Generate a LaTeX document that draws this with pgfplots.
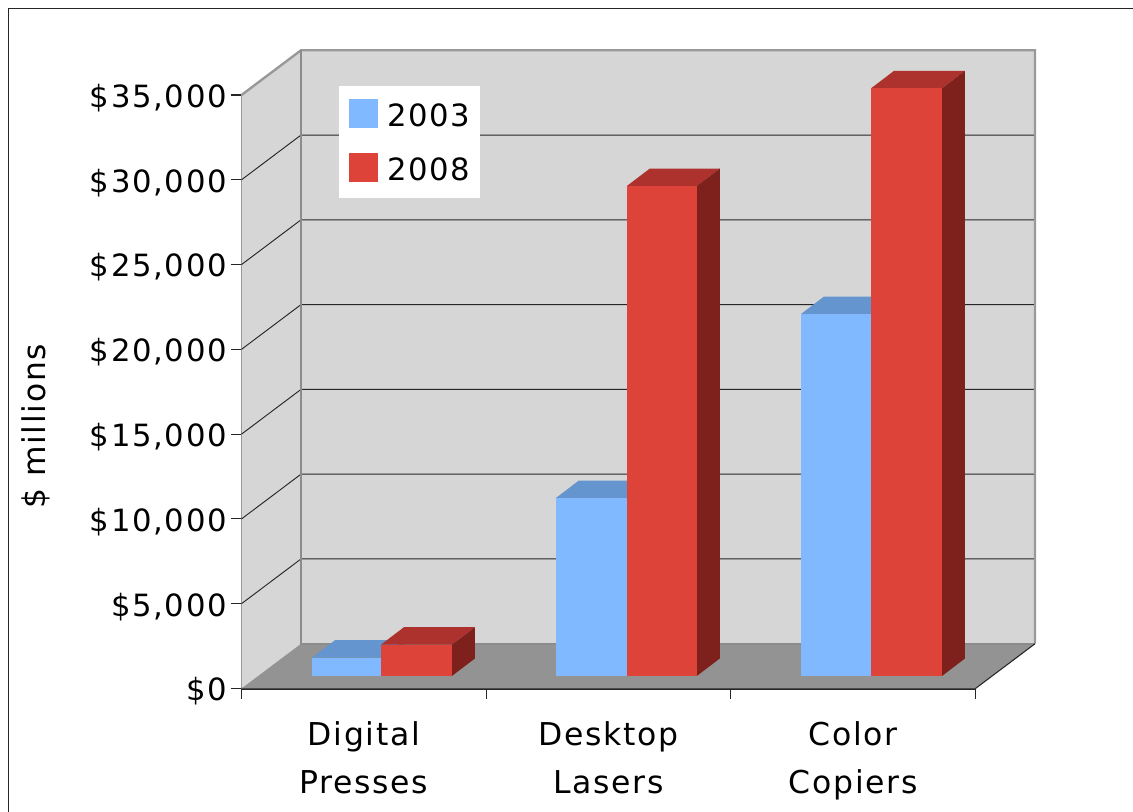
\documentclass[border=0pt]{standalone}
\usepackage{fontspec}
\setmainfont{DejaVu Sans}[LetterSpace=5.5]
\usepackage{pgfplots}
\pgfplotsset{compat=1.18}
\definecolor{wall}{HTML}{D6D6D6}
\definecolor{floorc}{HTML}{939393}
\definecolor{edge}{HTML}{999999}
\definecolor{bluef}{HTML}{80B9FF}
\definecolor{bluet}{HTML}{6595CF}
\definecolor{blues}{HTML}{4A6F9C}
\definecolor{redf}{HTML}{DE433A}
\definecolor{redt}{HTML}{AD322E}
\definecolor{reds}{HTML}{7E211C}
% back-wall offset in data units
\def\bx{0.2432}
\def\by{2639}
% bar depth in data units
\def\dx{0.094}
\def\dy{1032}
% one 3D bar: x1, x2, value, front, top, side
\newcommand{\threebar}[6]{%
  \edef\xb{\fpeval{#1+\dx}}%
  \edef\xc{\fpeval{#2+\dx}}%
  \edef\vb{\fpeval{#3+\dy}}%
  \addplot[fill=#5,draw=none,forget plot,yshift=9.375pt] coordinates {(#1,#3)(\xb,\vb)(\xc,\vb)(#2,#3)} -- cycle;
  \addplot[fill=#6,draw=none,forget plot,yshift=9.375pt] coordinates {(#2,0)(\xc,\dy)(\xc,\vb)(#2,#3)} -- cycle;
  \addplot[fill=#4,draw=none,forget plot,yshift=9.375pt] coordinates {(#1,0)(#1,#3)(#2,#3)(#2,0)} -- cycle;
}
\newcommand{\gridat}[1]{%
  \edef\vb{\fpeval{#1+\by}}%
  \addplot[black!85,line width=0.7pt,forget plot] coordinates {(0,#1)(\bx,\vb)(3.2432,\vb)};
}
\begin{document}
\begin{tikzpicture}
\useasboundingbox (-181.125pt,-92.625pt) rectangle (668.625pt,516.375pt);
\draw[black!85,line width=0.8pt] (-174.4pt,-100pt) -- (-174.4pt,510pt) -- (680pt,510pt);
\begin{axis}[
  at={(0,0)},anchor=origin,
  scale only axis,
  width=550.5pt,height=445.1pt,
  xmin=0,xmax=3,ymin=0,ymax=35000,
  clip=false,
  scaled y ticks=false,
  axis x line*=bottom,axis y line*=left,
  axis line style={-,black!85},
  x axis line style={line width=1.6pt},
  y axis line style={line width=0.8pt},
  tick align=outside,
  major tick length=7.8pt,
  tick style={black!85,line width=0.8pt},
  xtick={0,1,2,3},xticklabels={},
  extra x ticks={0.5,1.5,2.5},
  extra x tick labels={{Digital\\Presses},{Desktop\\Lasers},{Color\\Copiers}},
  extra x tick style={major tick length=0pt,
    tick label style={align=center,yshift=-21pt,font=\fontsize{23.6}{36}\selectfont}},
  ytick={0,5000,10000,15000,20000,25000,30000,35000},
  yticklabels={{\$0},{\$5,000},{\$10,000},{\$15,000},{\$20,000},{\$25,000},{\$30,000},{\$35,000}},
  y tick label style={font=\fontsize{23}{27}\selectfont,xshift=0.4pt,yshift=-2.25pt},
  ylabel={\$ millions},
  ylabel style={font=\fontsize{23.5}{27}\selectfont,at={(axis description cs:-0.28,0.442)},anchor=center},
  legend style={at={(axis cs:0.3985,35529)},anchor=north west,draw=none,fill=white,
    font=\fontsize{23}{27}\selectfont,inner xsep=5pt,inner ysep=9.5pt,
    row sep=16.5pt},
  legend cell align=left,
  legend image code/.code={\fill[#1] (0pt,-8.5pt) rectangle (21pt,12.5pt);\path (26.5pt,0pt) (-2pt,0pt);},
]
% walls and floor
\addplot[fill=wall,draw=none,forget plot] coordinates {(0.2432,2639)(3.2432,2639)(3.2432,37639)(0.2432,37639)} -- cycle;
\addplot[fill=wall,draw=none,forget plot] coordinates {(0,0)(0.2432,2639)(0.2432,37639)(0,35000)} -- cycle;
\addplot[fill=floorc,draw=none,forget plot] coordinates {(0,0)(3,0)(3.2432,2639)(0.2432,2639)} -- cycle;
% gridlines
\gridat{5000}\gridat{10000}\gridat{15000}\gridat{20000}\gridat{25000}\gridat{30000}
% wall edges
\addplot[edge,line width=1.8pt,forget plot] coordinates {(0,35000)(0.2432,37639)(3.2432,37639)(3.2432,2639)};
\addplot[black!45,line width=1.4pt,forget plot] coordinates {(0.2432,37639)(0.2432,2639)(3.2432,2639)};
\addplot[black!85,line width=0.8pt,forget plot] coordinates {(3,0)(3.2432,2639)};
% bars: Digital Presses, Desktop Lasers, Color Copiers
\threebar{0.288}{0.570}{1079}{bluef}{bluet}{blues}
\threebar{0.570}{0.860}{1846}{redf}{redt}{reds}
\threebar{1.285}{1.575}{10497}{bluef}{bluet}{blues}
\threebar{1.575}{1.861}{28895}{redf}{redt}{reds}
\threebar{2.287}{2.573}{21348}{bluef}{bluet}{blues}
\threebar{2.573}{2.863}{34657}{redf}{redt}{reds}
\addlegendimage{bluef}\addlegendentry{2003}
\addlegendimage{redf}\addlegendentry{2008}
\end{axis}
\end{tikzpicture}
\end{document}
